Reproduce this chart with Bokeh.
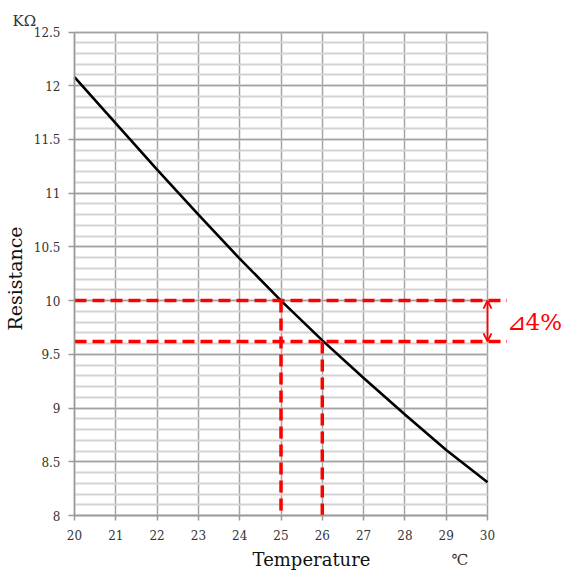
import math
from bokeh.plotting import figure
from bokeh.models import (Range1d, FixedTicker, SingleIntervalTicker, NumeralTickFormatter,
                          Label, Arrow, OpenHead)
from bokeh.embed import file_html
from bokeh.resources import INLINE

# ---- data ----
temps = [20, 21, 22, 23, 24, 25, 26, 27, 28, 29, 30]
resistance = [12.08, 11.65, 11.22, 10.80, 10.39, 10.00, 9.63, 9.28, 8.94, 8.61, 8.31]
x_ticks = [20, 21, 22, 23, 24, 25, 26, 27, 28, 29, 30]
y_min, y_max = 8.0, 12.5
ref_temps = [25, 26]
ref_res = [10.00, 9.62]
delta_text = "⊿4%"
x_title = "Temperature"
x_unit = "℃"
y_title = "Resistance"
y_unit = "KΩ"

# ---- layout (pixels) ----
W, H = 568, 570
PX_X = 41.3                      # pixels per degree
PX_Y = (515 - 31.5) / 4.5        # pixels per kOhm
X_START = x_ticks[0] - 74 / PX_X
X_END = X_START + W / PX_X
Y_END = y_max + 31.5 / PX_Y
Y_START = Y_END - H / PX_Y


def xd(px):
    return X_START + px / PX_X


def yd(py):
    return Y_END - py / PX_Y


SERIF = "DejaVu Serif"
GRID_MAJOR = "#a3a3a3"
GRID_MINOR = "#d3d3d3"
AXIS = "#9a9a9a"
RED = "#ff0000"

p = figure(width=W, height=H, output_backend="svg", toolbar_location=None,
           x_range=Range1d(X_START, X_END), y_range=Range1d(Y_START, Y_END),
           min_border_left=0, min_border_right=0, min_border_top=0, min_border_bottom=0)
p.outline_line_color = None
p.background_fill_color = "white"
p.border_fill_color = "white"

# axes drawn at the data edges of the chart
xt = FixedTicker(ticks=x_ticks)
yt = SingleIntervalTicker(interval=0.5, num_minor_ticks=5)
p.xaxis.ticker = xt
p.xgrid.ticker = xt
p.yaxis.ticker = yt
p.ygrid.ticker = yt
p.xaxis.fixed_location = y_min
p.yaxis.fixed_location = x_ticks[0]
p.xaxis.bounds = (x_ticks[0], x_ticks[-1])
p.yaxis.bounds = (y_min, y_max)
p.yaxis.formatter = NumeralTickFormatter(format="0.[0]")
for ax in (p.xaxis, p.yaxis):
    ax.axis_line_color = AXIS
    ax.axis_line_width = 1.5
    ax.major_tick_line_color = AXIS
    ax.major_tick_line_width = 1.5
    ax.major_tick_in = 0
    ax.minor_tick_line_color = None
    ax.major_label_text_font = SERIF
    ax.major_label_text_font_size = "12px"
    ax.major_label_text_color = "#333333"
p.xaxis.major_tick_out = 5
p.xaxis.major_label_standoff = 9
p.yaxis.major_tick_out = 6
p.yaxis.major_label_standoff = 8

# grid limited to the chart area
p.xgrid.grid_line_color = GRID_MAJOR
p.xgrid.grid_line_width = 1.5
p.xgrid.bounds = (x_ticks[0] - 0.01, x_ticks[-1] + 0.01)
p.xgrid.cross_bounds = (y_min, y_max)
p.ygrid.grid_line_color = GRID_MAJOR
p.ygrid.grid_line_width = 1.5
p.ygrid.minor_grid_line_color = GRID_MINOR
p.ygrid.minor_grid_line_width = 1.8
p.ygrid.bounds = (y_min - 0.01, y_max + 0.01)
p.ygrid.cross_bounds = (x_ticks[0], x_ticks[-1])

# curve
p.line(temps, resistance, line_color="black", line_width=2.6)

# red reference lines
h_end = xd(506.5)
p.segment(x0=[x_ticks[0]] * len(ref_res), y0=ref_res, x1=[h_end] * len(ref_res), y1=ref_res,
          line_color=RED, line_width=3.5, line_dash="12 6")
p.segment(x0=ref_temps, y0=ref_res, x1=ref_temps, y1=[y_min] * len(ref_temps),
          line_color=RED, line_width=3.5, line_dash="12 6")

p.add_layout(Arrow(start=OpenHead(size=8, line_color=RED, line_width=1.8),
                   end=OpenHead(size=8, line_color=RED, line_width=1.8),
                   x_start=x_ticks[-1], y_start=ref_res[1], x_end=x_ticks[-1], y_end=ref_res[0],
                   line_color=RED, line_width=1.8))

# texts
p.add_layout(Label(x=xd(506), y=yd(321), text=delta_text, text_font=SERIF, text_font_size="23px",
                   text_color=RED, text_align="left", text_baseline="middle"))
p.add_layout(Label(x=xd(12), y=yd(20), text=y_unit, text_font=SERIF, text_font_size="15px",
                   text_color="#333333", text_align="left", text_baseline="alphabetic"))
p.add_layout(Label(x=xd(14), y=yd(278), text=y_title, text_font=SERIF, text_font_size="19px",
                   text_color="#111111", text_align="center", text_baseline="alphabetic",
                   angle=math.pi / 2))
p.add_layout(Label(x=xd(311), y=yd(559), text=x_title, text_font=SERIF, text_font_size="18px",
                   text_color="#111111", text_align="center", text_baseline="alphabetic"))
p.add_layout(Label(x=xd(451), y=yd(559), text=x_unit, text_font=SERIF, text_font_size="15px",
                   text_color="#333333", text_align="left", text_baseline="alphabetic"))

open("out.html", "w").write(file_html(p, INLINE))
